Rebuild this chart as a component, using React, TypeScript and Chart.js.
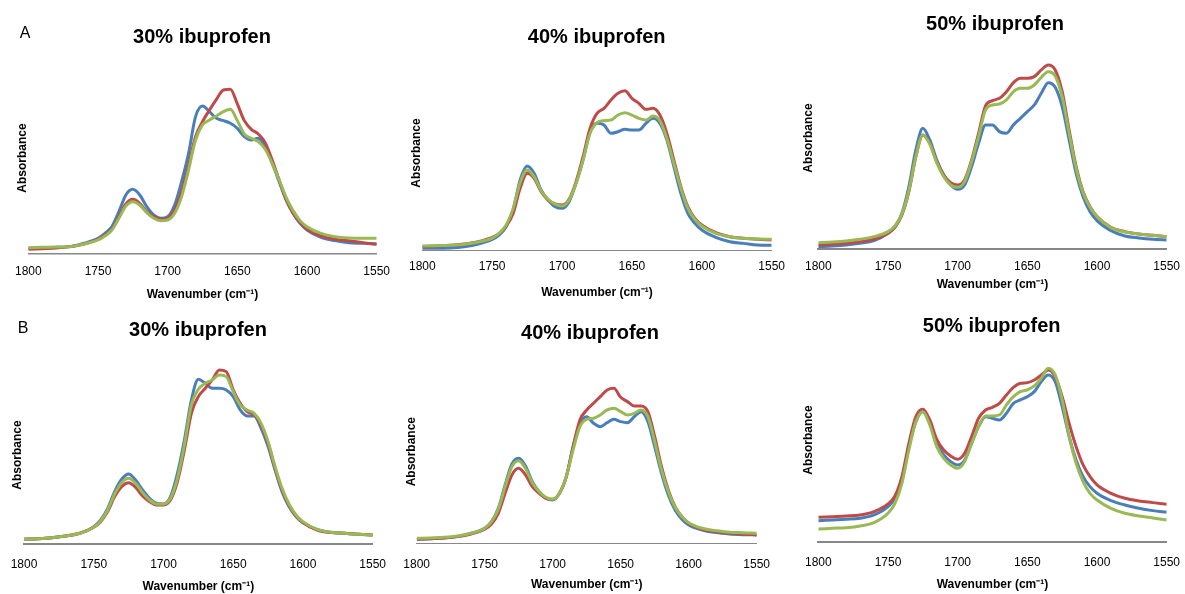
import React, { useEffect, useRef } from "react";
import { Chart, registerables } from "chart.js";

Chart.register(...registerables);

// Wavenumber grid (cm-1), shared by every spectrum
const wavenumbers = [
  1800, 1790, 1780, 1770, 1760,
  1750, 1745, 1740, 1735, 1730, 1725, 1720, 1715, 1710, 1705,
  1700, 1695, 1690, 1685, 1680, 1675, 1670, 1665, 1660, 1655,
  1650, 1645, 1640, 1635, 1630, 1625, 1620, 1615, 1610, 1605,
  1600, 1590, 1580, 1570, 1560, 1550,
];
const xTicks = [1800, 1750, 1700, 1650, 1600, 1550];

// Absorbance (arbitrary units) — panel A
const a30Blue = [15,15,18,20,30, 45,60,80,125,175,192,175,140,115,105,110,145,215,300,410,442,425,405,398,390,375,350,340,345,320,270,215,160,120,90,70, 48,38,32,30,28];
const a30Red = [12,14,16,20,28, 42,55,72,110,148,162,150,125,110,102,105,130,185,265,350,395,430,462,490,492,448,398,372,358,332,280,220,162,120,92,72, 52,42,38,32,27];
const a30Green = [17,18,19,20,28, 40,52,70,105,142,155,145,122,105,98,100,120,170,250,340,385,400,412,425,432,398,358,345,335,312,270,220,168,128,98,80, 60,50,46,45,45];

const a40Blue = [7,7,8,12,20, 34,47,72,122,212,254,232,182,152,132,127,147,202,272,357,382,377,352,357,364,362,362,382,397,382,332,252,172,112,82,62, 40,27,22,17,16];
const a40Red = [12,14,16,20,27, 40,52,74,112,187,232,217,177,152,140,137,154,207,282,367,412,427,452,472,480,457,442,424,427,407,352,272,192,132,97,77, 54,42,37,34,32];
const a40Green = [14,15,16,19,26, 38,52,77,127,204,242,222,180,154,140,134,152,202,272,352,384,390,392,407,414,407,397,392,404,390,337,262,187,127,94,74, 52,42,37,35,34];

const a50Blue = [8,10,13,18,26, 48,68,108,188,298,363,328,268,223,193,180,193,248,318,373,373,353,348,373,393,413,433,468,500,486,428,328,228,158,113,86, 56,40,34,30,28];
const a50Red = [13,15,18,23,30, 48,66,103,173,278,343,318,263,223,200,193,208,268,348,430,446,453,473,500,513,513,518,538,553,538,473,358,248,173,128,98, 66,53,46,42,38];
const a50Green = [20,22,25,30,38, 53,70,106,176,278,343,316,260,218,193,186,203,263,338,418,433,436,448,473,483,483,493,516,533,520,458,348,243,170,126,98, 65,52,46,42,38];

// Absorbance (arbitrary units) — panel B
const b30Blue = [15,17,20,25,33, 53,73,108,158,195,211,193,163,138,123,121,143,213,313,433,495,483,468,468,463,443,403,385,385,348,293,223,158,113,83,65, 45,36,33,30,28];
const b30Red = [15,17,20,25,33, 51,68,98,143,173,185,171,145,128,118,118,133,188,283,393,443,468,493,523,518,463,423,398,388,358,303,228,163,118,85,65, 43,35,33,30,28];
const b30Green = [15,17,20,25,33, 51,70,103,151,185,198,183,155,133,121,121,138,198,298,418,465,483,493,508,503,458,418,403,393,363,308,233,168,121,88,68, 45,36,33,30,28];

const b40Blue = [12,14,16,20,30, 45,65,105,175,238,255,232,185,155,135,130,150,200,290,360,380,360,350,362,372,365,362,380,395,365,290,210,145,100,72,55, 40,32,28,26,25];
const b40Red = [12,14,16,20,28, 42,58,90,150,205,225,205,170,150,135,132,150,200,290,370,400,420,440,460,465,438,425,412,412,395,320,230,160,110,80,60, 42,35,30,28,25];
const b40Green = [15,16,18,22,30, 45,65,102,170,230,248,225,182,155,138,132,150,200,280,350,372,375,385,400,405,395,385,390,400,380,305,220,155,108,80,62, 45,38,33,32,30];

const b50Blue = [65,67,69,72,82, 107,132,187,287,362,392,357,297,262,242,232,247,297,347,377,372,367,387,417,427,437,452,482,502,482,407,317,247,197,167,147, 125,112,102,95,90];
const b50Red = [75,77,79,82,92, 115,139,197,297,377,399,367,309,277,259,249,267,317,372,397,405,417,442,465,477,479,487,502,517,497,437,357,287,232,197,172, 147,132,124,119,114];
const b50Green = [40,42,44,49,59, 87,117,177,277,362,392,352,287,252,232,222,242,297,347,379,379,382,412,437,452,457,469,492,522,502,427,317,237,182,147,127, 102,87,79,73,67];

const titles = ["30% ibuprofen", "40% ibuprofen", "50% ibuprofen"];
const panelLetters = ["A", "B"];
const xAxisTitle = "Wavenumber (cm\u207B\u00B9)";
const yAxisTitle = "Absorbance";

const BLUE = "#4A7EBB";
const RED = "#BE4B48";
const GREEN = "#98B954";
const FONT = "'Liberation Sans', Arial, Helvetica, sans-serif";

type PanelSpec = {
  left: number; top: number;
  series: number[][];
  cL: number; cR: number; cT: number; cB: number;
  absX: number; tickY: number; xtY: number; yMax: number; axisW: number;
  title: string; tx: number; ty: number;
};

const CW = 395;
const CH = 310;
const YW = 20;

const panels: PanelSpec[] = [
  { left: 0, top: 0, series: [a30Blue, a30Red, a30Green], cL: 28.3, cR: 376.7, cT: 62.7, cB: 253.3, absX: 23, tickY: 272, xtY: 295, yMax: 571.8, axisW: 1.5, title: titles[0], tx: 202, ty: 36 },
  { left: 395, top: 0, series: [a40Blue, a40Red, a40Green], cL: 27.3, cR: 376.7, cT: 55.3, cB: 250.7, absX: 21.7, tickY: 267, xtY: 293, yMax: 586.2, axisW: 1, title: titles[1], tx: 596.7, ty: 36 },
  { left: 790, top: 0, series: [a50Blue, a50Red, a50Green], cL: 28.3, cR: 376.7, cT: 26.7, cB: 249.3, absX: 19, tickY: 267, xtY: 285, yMax: 667.8, axisW: 2, title: titles[2], tx: 995, ty: 23 },
  { left: 0, top: 300, series: [b30Blue, b30Red, b30Green], cL: 24, cR: 372.7, cT: 65.7, cB: 244.3, absX: 18, tickY: 265, xtY: 287, yMax: 535.8, axisW: 2, title: titles[0], tx: 198, ty: 329 },
  { left: 395, top: 300, series: [b40Blue, b40Red, b40Green], cL: 21.7, cR: 361.7, cT: 60, cB: 243.3, absX: 16.7, tickY: 265, xtY: 285, yMax: 549.9, axisW: 1, title: titles[1], tx: 590, ty: 331.7 },
  { left: 790, top: 300, series: [b50Blue, b50Red, b50Green], cL: 28.3, cR: 376.7, cT: 37.7, cB: 242.3, absX: 19, tickY: 263, xtY: 285, yMax: 613.8, axisW: 2, title: titles[2], tx: 991.7, ty: 325 },
];

function Panel({ p }: { p: PanelSpec }) {
  const ref = useRef<HTMLCanvasElement | null>(null);
  useEffect(() => {
    if (!ref.current) return;
    const colors = [BLUE, RED, GREEN];
    const orders = [2, 1, 0];
    const datasets = p.series.map((vals, i) => ({
      data: wavenumbers.map((w, j) => ({ x: w, y: vals[j] })),
      borderColor: colors[i],
      backgroundColor: colors[i],
      borderWidth: 3,
      pointRadius: 0,
      cubicInterpolationMode: "monotone" as const,
      fill: false,
      order: orders[i],
    }));
    const half = 7.2;
    const chart = new Chart(ref.current, {
      type: "line",
      data: { datasets },
      options: {
        responsive: false,
        animation: false,
        layout: {
          padding: { left: p.cL - YW, right: CW - p.cR, top: p.cT, bottom: CH - p.xtY - half },
        },
        plugins: { legend: { display: false }, tooltip: { enabled: false }, title: { display: false } },
        scales: {
          x: {
            type: "linear",
            reverse: true,
            min: 1550,
            max: 1800,
            afterBuildTicks: (s: any) => { s.ticks = xTicks.map((v) => ({ value: v })); },
            ticks: {
              padding: p.tickY - p.cB - half,
              color: "#000",
              font: { family: FONT, size: 12 },
              maxRotation: 0,
              autoSkip: false,
              callback: (v: any) => String(v),
            },
            grid: { display: false, drawTicks: false },
            border: { display: true, color: "#878787", width: p.axisW },
            title: { display: true, text: xAxisTitle, color: "#000", font: { family: FONT, size: 12, weight: "bold" }, padding: 0 },
            afterFit: (s: any) => { s.height = p.xtY + half - p.cB; s.paddingLeft = 0; s.paddingRight = 0; },
          },
          y: {
            min: 0,
            max: p.yMax,
            ticks: { display: false },
            grid: { display: false, drawTicks: false },
            border: { display: false },
            title: { display: true, text: yAxisTitle, color: "#000", font: { family: FONT, size: 12, weight: "bold" }, padding: { top: p.absX - (p.cL - YW) - half, bottom: 0 } },
            afterFit: (s: any) => { s.width = YW; s.paddingTop = 0; s.paddingBottom = 0; },
          },
        },
      } as any,
    });
    return () => chart.destroy();
  }, [p]);
  return (
    <canvas
      ref={ref}
      width={CW}
      height={CH}
      style={{ position: "absolute", left: p.left, top: p.top, width: CW, height: CH }}
    />
  );
}

export default function App() {
  return (
    <div style={{ position: "absolute", left: 0, top: 0, width: 1185, height: 594, overflow: "hidden", background: "#fff", fontFamily: FONT }}>
      {panels.map((p, i) => (
        <Panel key={i} p={p} />
      ))}
      {panels.map((p, i) => (
        <div
          key={"t" + i}
          style={{ position: "absolute", left: p.tx, top: p.ty, transform: "translate(-50%,-50%)", fontSize: 20, fontWeight: "bold", lineHeight: 1, whiteSpace: "nowrap", color: "#000" }}
        >
          {p.title}
        </div>
      ))}
      <div style={{ position: "absolute", left: 25, top: 33, transform: "translate(-50%,-50%)", fontSize: 16, lineHeight: 1, color: "#000" }}>{panelLetters[0]}</div>
      <div style={{ position: "absolute", left: 23, top: 328, transform: "translate(-50%,-50%)", fontSize: 16, lineHeight: 1, color: "#000" }}>{panelLetters[1]}</div>
    </div>
  );
}
